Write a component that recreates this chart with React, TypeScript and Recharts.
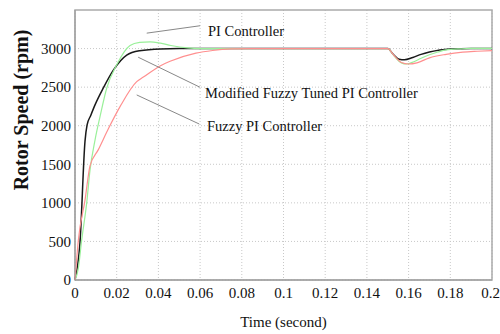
import React from 'react';
import { LineChart, Line, XAxis, YAxis, CartesianGrid, ReferenceArea, ReferenceLine, ReferenceDot, Label } from 'recharts';

// time (s) / speed (rpm) samples
const modifiedT = [0, 0.0024, 0.0048, 0.0058, 0.0075, 0.0096, 0.0136, 0.0184, 0.0248, 0.031, 0.041, 0.05, 0.15, 0.1525, 0.1555, 0.158, 0.162, 0.166, 0.17, 0.175, 0.18, 0.19, 0.2];
const modifiedV = [0, 490, 1800, 2010, 2130, 2270, 2490, 2720, 2915, 2972, 2996, 3000, 3000, 2930, 2862, 2855, 2885, 2925, 2955, 2982, 2995, 3002, 3002];

const piT = [0, 0.0016, 0.0032, 0.0056, 0.0072, 0.0096, 0.012, 0.0152, 0.02, 0.0264, 0.031, 0.036, 0.041, 0.046, 0.054, 0.06, 0.15, 0.153, 0.1565, 0.159, 0.1625, 0.166, 0.17, 0.174, 0.178, 0.185, 0.19, 0.2];
const piV = [0, 150, 516, 996, 1425, 1814, 2117, 2486, 2790, 3040, 3080, 3088, 3070, 3040, 3008, 3000, 3000, 2905, 2815, 2800, 2830, 2875, 2920, 2955, 2983, 2997, 3002, 3002];

const fuzzyT = [0, 0.0016, 0.0048, 0.0072, 0.0112, 0.016, 0.0216, 0.0296, 0.0328, 0.0408, 0.0456, 0.058, 0.066, 0.075, 0.085, 0.15, 0.153, 0.1565, 0.16, 0.164, 0.17, 0.178, 0.186, 0.193, 0.2];
const fuzzyV = [0, 516, 1035, 1480, 1690, 1960, 2247, 2571, 2630, 2775, 2835, 2940, 2975, 2995, 3000, 3000, 2910, 2820, 2800, 2815, 2880, 2925, 2953, 2965, 2974];

const xTicks = [0, 0.02, 0.04, 0.06, 0.08, 0.1, 0.12, 0.14, 0.16, 0.18, 0.2];
const yTicks = [0, 500, 1000, 1500, 2000, 2500, 3000];

// annotations: label, leader line (t1, v1, t2, v2), text anchor (t, v)
const annLabels = ['PI Controller', 'Modified Fuzzy Tuned PI Controller', 'Fuzzy PI Controller'];
const annLine = [
  [0.0344, 3200, 0.06, 3296],
  [0.0303, 2888, 0.06, 2498],
  [0.0296, 2399, 0.0596, 2022],
];
const annText = [
  [0.0638, 3164],
  [0.0624, 2360],
  [0.0633, 1931],
];

const zip = (t: number[], v: number[]) => t.map((x, i) => ({ t: x, v: v[i] }));
const modifiedData = zip(modifiedT, modifiedV);
const piData = zip(piT, piV);
const fuzzyData = zip(fuzzyT, fuzzyV);

const FONT = '"Liberation Serif", "Times New Roman", serif';

const css = `
.chartwrap, .chartwrap text, .chartwrap tspan { font-family: ${FONT} !important; }
`;

export default function App() {
  return (
    <div className="chartwrap" style={{ position: 'absolute', left: 0, top: 0, width: 500, height: 334, background: '#fff', fontFamily: FONT }}>
      <style>{css}</style>
      <LineChart width={500} height={334} margin={{ top: 10, right: 8, left: 0, bottom: 0 }}>
        <CartesianGrid stroke="#c8c8c8" strokeDasharray="1 2" horizontalValues={yTicks} verticalValues={xTicks} />
        <XAxis
          dataKey="t"
          type="number"
          domain={[0, 0.2]}
          ticks={xTicks}
          height={54}
          tickLine={false}
          tickSize={0}
          tickMargin={7}
          axisLine={{ stroke: '#999' }}
          tick={{ fill: '#111', fontSize: 15, fontFamily: FONT }}
          allowDuplicatedCategory={false}
        >
          <Label value="Time (second)" position="insideBottom" offset={7} style={{ fill: '#111', fontSize: 15, fontFamily: FONT }} />
        </XAxis>
        <YAxis
          type="number"
          domain={[0, 3500]}
          ticks={yTicks}
          width={75}
          tickLine={false}
          tickSize={0}
          tickMargin={4}
          axisLine={{ stroke: '#999' }}
          tick={{ fill: '#111', fontSize: 15, fontFamily: FONT }}
        >
          <Label
            content={() => {
              const cx = 21;
              const cy = 110;
              return (
                <text
                  x={cx}
                  y={cy}
                  transform={`rotate(-90 ${cx} ${cy})`}
                  textAnchor="middle"
                  dominantBaseline="central"
                  style={{ fill: '#111', fontSize: 20, fontWeight: 'bold', fontFamily: FONT }}
                >
                  Rotor Speed (rpm)
                </text>
              );
            }}
          />
        </YAxis>
        <ReferenceArea x1={0} x2={0.2} y1={0} y2={3500} fill="none" stroke="#aaa" strokeWidth={1.5} ifOverflow="visible" />
        <Line data={modifiedData} dataKey="v" type="monotone" stroke="#1a1a1a" strokeWidth={1.5} dot={false} isAnimationActive={false} />
        <Line data={piData} dataKey="v" type="monotone" stroke="#9af09a" strokeWidth={1.2} dot={false} isAnimationActive={false} />
        <Line data={fuzzyData} dataKey="v" type="monotone" stroke="#ff8f8f" strokeWidth={1.2} dot={false} isAnimationActive={false} />
        {annLine.map((s, i) => (
          <ReferenceLine
            key={'l' + i}
            segment={[{ x: s[0], y: s[1] }, { x: s[2], y: s[3] }]}
            stroke="#888"
            strokeWidth={1}
            ifOverflow="visible"
          />
        ))}
        {annText.map((p, i) => (
          <ReferenceDot
            key={'d' + i}
            x={p[0]}
            y={p[1]}
            r={0}
            fill="none"
            stroke="none"
            ifOverflow="visible"
            label={(props: any) => {
              const vb = props.viewBox || {};
              return (
                <text x={vb.x} y={vb.y} style={{ fill: '#111', fontSize: 14.5, fontFamily: FONT }}>
                  {annLabels[i]}
                </text>
              );
            }}
          />
        ))}
      </LineChart>
    </div>
  );
}
